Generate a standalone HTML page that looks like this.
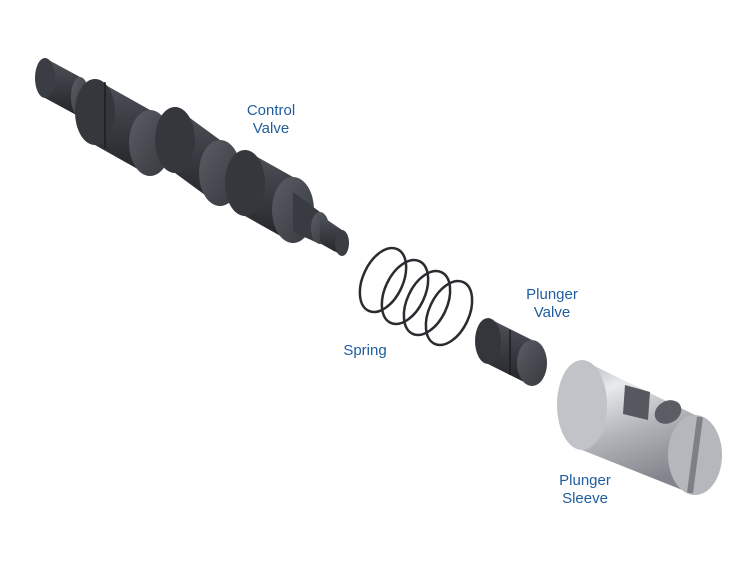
<!DOCTYPE html>
<html><head><style>
body{margin:0;background:#fff;width:750px;height:580px;overflow:hidden}
.l{font-family:"Liberation Sans",sans-serif;font-size:15px;fill:#1f5d9c;text-anchor:middle}
</style></head><body>
<svg width="750" height="580" xmlns="http://www.w3.org/2000/svg">
<defs>
<linearGradient id="d" x1="0" y1="0" x2="0" y2="1">
<stop offset="0" stop-color="#50545b"/><stop offset="0.4" stop-color="#3c3f45"/><stop offset="1" stop-color="#222428"/></linearGradient>
<linearGradient id="f" x1="0" y1="0" x2="1" y2="1">
<stop offset="0" stop-color="#5a5e65"/><stop offset="1" stop-color="#35383d"/></linearGradient>
<linearGradient id="s" x1="0" y1="0" x2="0.3" y2="1">
<stop offset="0" stop-color="#b0b3b8"/><stop offset="0.25" stop-color="#e8eaed"/><stop offset="0.6" stop-color="#b0b3b8"/><stop offset="1" stop-color="#82868c"/></linearGradient>
</defs>
<!-- shaft -->
<line x1="70" y1="92" x2="340" y2="243" stroke="#2e3135" stroke-width="20"/>
<!-- pin -->
<polygon points="45,58 80,77 80,117 45,98" fill="url(#d)"/>
<ellipse cx="45" cy="78" rx="10" ry="20" fill="#3a3d43"/>
<ellipse cx="80" cy="97" rx="9" ry="20" fill="url(#f)"/>
<!-- land1 -->
<polygon points="95,79 150,110 150,176 95,145" fill="url(#d)"/>
<ellipse cx="95" cy="112" rx="20" ry="33" fill="#34373c"/>
<line x1="105" y1="82" x2="105" y2="148" stroke="#1c1d20" stroke-width="1.5"/>
<ellipse cx="150" cy="143" rx="21" ry="33" fill="url(#f)"/>
<!-- land2 -->
<polygon points="175,107 220,140 220,206 175,173" fill="url(#d)"/>
<ellipse cx="175" cy="140" rx="20" ry="33" fill="#34373c"/>
<ellipse cx="220" cy="173" rx="21" ry="33" fill="url(#f)"/>
<!-- land3 -->
<polygon points="245,150 293,177 293,243 245,216" fill="url(#d)"/>
<ellipse cx="245" cy="183" rx="20" ry="33" fill="#34373c"/>
<ellipse cx="293" cy="210" rx="21" ry="33" fill="url(#f)"/>
<!-- taper & tip -->
<polygon points="293,192 320,212 320,244 293,232" fill="#383b41"/>
<ellipse cx="320" cy="228" rx="9" ry="16" fill="url(#f)"/>
<polygon points="320,215 342,230 342,256 320,241" fill="url(#d)"/>
<ellipse cx="342" cy="243" rx="7" ry="13" fill="#3a3d42"/>
<!-- spring -->
<g fill="none" stroke="#2a2c30" stroke-width="2.5">
<ellipse cx="383" cy="280" rx="20" ry="34" transform="rotate(25 383 280)"/>
<ellipse cx="405" cy="292" rx="20" ry="34" transform="rotate(25 405 292)"/>
<ellipse cx="427" cy="303" rx="20" ry="34" transform="rotate(25 427 303)"/>
<ellipse cx="449" cy="313" rx="20" ry="34" transform="rotate(25 449 313)"/>
</g>
<!-- plunger valve -->
<polygon points="488,318 532,340 532,386 488,364" fill="url(#d)"/>
<ellipse cx="488" cy="341" rx="13" ry="23" fill="#33363b"/>
<ellipse cx="532" cy="363" rx="15" ry="23" fill="url(#f)"/>
<line x1="510" y1="330" x2="510" y2="375" stroke="#1c1d20" stroke-width="1.5"/>
<!-- sleeve -->
<polygon points="582,360 695,415 695,495 582,450" fill="url(#s)"/>
<ellipse cx="582" cy="405" rx="25" ry="45" fill="#c0c3c7"/>
<ellipse cx="695" cy="455" rx="27" ry="40" fill="#b4b7bc"/>
<line x1="700" y1="417" x2="690" y2="493" stroke="#7d8187" stroke-width="6"/>
<polygon points="625,385 650,392 648,420 623,414" fill="#55585e"/>
<ellipse cx="668" cy="412" rx="14" ry="11" fill="#5a5d63" transform="rotate(-30 668 412)"/>
<text class="l" x="271" y="115">Control</text>
<text class="l" x="271" y="133">Valve</text>
<text class="l" x="552" y="299">Plunger</text>
<text class="l" x="552" y="317">Valve</text>
<text class="l" x="365" y="355">Spring</text>
<text class="l" x="585" y="485">Plunger</text>
<text class="l" x="585" y="503">Sleeve</text>
</svg>
</body></html>
